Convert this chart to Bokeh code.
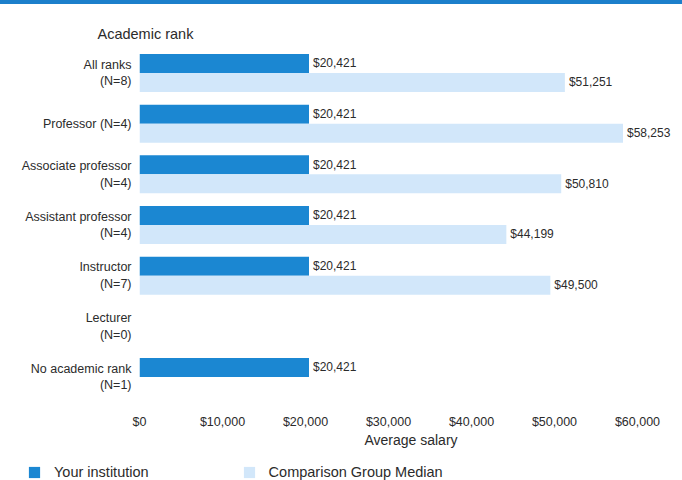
from bokeh.plotting import figure
from bokeh.layouts import column, row
from bokeh.models import (ColumnDataSource, Range1d, FixedTicker, NumeralTickFormatter,
                          Legend, LegendItem, Div)
from bokeh.core.properties import value
from bokeh.embed import file_html
from bokeh.resources import INLINE
import math

# ---- data ----
ranks = ["All ranks\n(N=8)", "Professor (N=4)", "Associate professor\n(N=4)",
         "Assistant professor\n(N=4)", "Instructor\n(N=7)", "Lecturer\n(N=0)",
         "No academic rank\n(N=1)"]
your_institution = [20421, 20421, 20421, 20421, 20421, float("nan"), 20421]
comparison_median = [51251, 58253, 50810, 44199, 49500, float("nan"), float("nan")]
x_ticks = [0, 10000, 20000, 30000, 40000, 50000, 60000]
series_names = ["Your institution", "Comparison Group Median"]

DARK = "#1b87d2"
LIGHT = "#d2e7fa"
FONT = "Liberation Sans"
TXT = "#2b2b2b"

idx = list(range(len(ranks)))
bar_h = 0.375


def src(vals, off):
    xs, ys, labs = [], [], []
    for i, v in zip(idx, vals):
        if v is None or (isinstance(v, float) and math.isnan(v)):
            continue
        xs.append(v)
        ys.append(i + off)
        labs.append("${:,.0f}".format(v))
    return ColumnDataSource(dict(x=xs, y=ys, lab=labs))


s_you = src(your_institution, -bar_h / 2)
s_cmp = src(comparison_median, bar_h / 2)

W = 682
STRIPE = 4
p = figure(width=W, height=458 - STRIPE, output_backend="svg", toolbar_location=None,
           x_range=Range1d(0, 65422), y_range=Range1d(6.464, -0.503),
           min_border_left=139, min_border_right=0, min_border_top=47 - STRIPE,
           min_border_bottom=58)

r1 = p.hbar(y="y", right="x", left=0, height=bar_h, source=s_you,
            color=DARK, line_color=None)
r2 = p.hbar(y="y", right="x", left=0, height=bar_h, source=s_cmp,
            color=LIGHT, line_color=None)

for s in (s_you, s_cmp):
    p.text(x="x", y="y", text="lab", source=s, x_offset=4,
           text_baseline="middle", text_align="left",
           text_font_size="12px", text_color=TXT, text_font=value(FONT))

# axes
p.xgrid.visible = False
p.ygrid.visible = False
p.outline_line_color = None

xa = p.xaxis[0]
xa.ticker = FixedTicker(ticks=x_ticks)
xa.formatter = NumeralTickFormatter(format="$0,0")
xa.axis_line_color = None
xa.major_tick_line_color = None
xa.minor_tick_line_color = None
xa.major_tick_out = 0
xa.major_label_text_font = FONT
xa.major_label_text_font_size = "12.5px"
xa.major_label_text_color = TXT
xa.major_label_standoff = 14
xa.axis_label = "Average salary"
xa.axis_label_text_font = FONT
xa.axis_label_text_font_style = "normal"
xa.axis_label_text_font_size = "14px"
xa.axis_label_text_color = TXT
xa.axis_label_standoff = 0

ya = p.yaxis[0]
ya.ticker = FixedTicker(ticks=idx)
ya.major_label_overrides = {i: r for i, r in zip(idx, ranks)}
ya.axis_line_color = None
ya.major_tick_line_color = None
ya.minor_tick_line_color = None
ya.major_tick_out = 0
ya.major_label_text_font = FONT
ya.major_label_text_font_size = "12.5px"
ya.major_label_text_color = TXT
ya.major_label_standoff = 8

# title
p.title.text = "Academic rank"
p.title.text_font = FONT
p.title.text_font_size = "14.5px"
p.title.text_font_style = "normal"
p.title.text_color = TXT
p.title.align = "left"
p.title.offset = -42
p.title.standoff = 12

# legend strip (separate small figure holding only the legend;
# its renderers reuse the series data but lie outside its view)
q = figure(width=W, height=22, output_backend="svg", toolbar_location=None,
           x_axis_location=None, y_axis_location=None, title=None,
           x_range=Range1d(0, 1), y_range=Range1d(50, 51),
           min_border=0, min_border_left=0, min_border_right=0,
           min_border_top=0, min_border_bottom=0)
q.xgrid.visible = False
q.ygrid.visible = False
q.outline_line_color = None
l1 = q.hbar(y="y", right="x", left=0, height=bar_h, source=s_you,
            color=DARK, line_color=None)
l2 = q.hbar(y="y", right="x", left=0, height=bar_h, source=s_cmp,
            color=LIGHT, line_color=None)
legend = Legend(items=[LegendItem(label=series_names[0], renderers=[l1]),
                       LegendItem(label=series_names[1], renderers=[l2])],
                orientation="horizontal", location=(27, 0),
                background_fill_alpha=0, border_line_color=None,
                label_text_font=FONT, label_text_font_size="14.5px",
                label_text_color=TXT, glyph_width=14, glyph_height=14,
                spacing=93, padding=0, margin=0, label_standoff=13)
q.add_layout(legend, "center")

stripe = Div(text="", width=W, height=STRIPE,
             styles={"background-color": "#1c7fcb", "margin": "0", "padding": "0"})

layout = column(stripe, p, row(q), spacing=0)
open("out.html", "w").write(file_html(layout, INLINE))
